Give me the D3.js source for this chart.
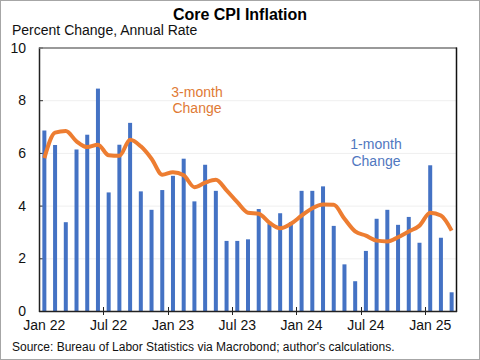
<!DOCTYPE html>
<html><head><meta charset="utf-8">
<script src="https://cdn.jsdelivr.net/npm/d3@7"></script>
<style>
html,body{margin:0;padding:0;background:#fff;}
svg text{font-family:"Liberation Sans",Arial,sans-serif;}
</style></head>
<body><svg id="c" width="480" height="360"></svg>
<script>
const months = ["Jan 22","Feb 22","Mar 22","Apr 22","May 22","Jun 22","Jul 22","Aug 22","Sep 22","Oct 22","Nov 22","Dec 22",
"Jan 23","Feb 23","Mar 23","Apr 23","May 23","Jun 23","Jul 23","Aug 23","Sep 23","Oct 23","Nov 23","Dec 23",
"Jan 24","Feb 24","Mar 24","Apr 24","May 24","Jun 24","Jul 24","Aug 24","Sep 24","Oct 24","Nov 24","Dec 24",
"Jan 25","Feb 25","Mar 25"];
const oneMonth = [6.85,6.30,3.37,6.13,6.69,8.44,4.50,6.31,7.14,4.54,3.84,4.59,
5.13,5.78,4.16,5.55,4.56,2.66,2.66,2.72,3.87,3.30,3.71,3.37,
4.56,4.56,4.73,3.23,1.77,1.13,2.28,3.50,3.84,3.27,3.57,2.59,
5.53,2.78,0.71];
const threeMonth = [5.80,6.77,6.83,6.44,6.22,6.31,5.91,5.89,6.50,6.25,5.78,5.17,
5.27,5.15,4.70,4.87,4.98,4.58,4.13,3.73,3.69,3.35,3.14,3.31,
3.62,3.90,4.04,4.03,3.50,3.02,2.86,2.67,2.64,2.80,3.02,3.24,
3.73,3.62,3.05];
const yTicks = [0,2,4,6,8,10];
const xLabels = ["Jan 22","Jul 22","Jan 23","Jul 23","Jan 24","Jul 24","Jan 25"];

const svg = d3.select("#c");
const L=39, R=457, T=47.5, B=311;
const x = d3.scaleBand().domain(months).range([L,R]);
const y = d3.scaleLinear().domain([0,10]).range([B,T]);

// outer border
svg.append("rect").attr("x",0.5).attr("y",0.5).attr("width",479).attr("height",359)
  .attr("fill","none").attr("stroke","#a6a6a6");

// title & subtitle
svg.append("text").attr("x",240).attr("y",20).attr("text-anchor","middle")
  .attr("font-size",16).attr("font-weight","bold").text("Core CPI Inflation");
svg.append("text").attr("x",12).attr("y",35).attr("font-size",14).attr("fill","#111")
  .text("Percent Change, Annual Rate");

// gridlines
svg.append("g").selectAll("line").data(yTicks.filter(d=>d>0&&d<10)).join("line")
  .attr("x1",L).attr("x2",R).attr("y1",d=>y(d)+0.5).attr("y2",d=>y(d)+0.5)
  .attr("stroke","#efefef");

// y labels
svg.append("g").selectAll("text").data(yTicks).join("text")
  .attr("x",26).attr("y",d=>y(d)+5).attr("text-anchor","end").attr("font-size",14)
  .attr("fill","#111").text(d=>d);
// y ticks (inside)
svg.append("g").selectAll("line").data(yTicks).join("line")
  .attr("x1",L).attr("x2",L+4).attr("y1",d=>y(d)+0.5).attr("y2",d=>y(d)+0.5)
  .attr("stroke","#333");

// bars
const bw = 4;
svg.append("g").selectAll("rect").data(oneMonth).join("rect")
  .attr("x",(d,i)=>x(months[i])+x.bandwidth()/2-bw/2)
  .attr("y",d=>y(d)).attr("width",bw).attr("height",d=>y(0)-y(d))
  .attr("fill","#4472C4");

// line
const line = d3.line().x((d,i)=>x(months[i])+x.bandwidth()/2).y(d=>y(d)).curve(d3.curveMonotoneX);
svg.append("path").datum(threeMonth).attr("d",line).attr("fill","none")
  .attr("stroke","#ED7D31").attr("stroke-width",4).attr("stroke-linejoin","round");

// frame
svg.append("line").attr("x1",L+0.5).attr("x2",L+0.5).attr("y1",T).attr("y2",B+1).attr("stroke","#222").attr("stroke-width",1.5);
svg.append("line").attr("x1",L).attr("x2",R).attr("y1",T+0.5).attr("y2",T+0.5).attr("stroke","#777").attr("stroke-width",1.5);
svg.append("line").attr("x1",R-0.5).attr("x2",R-0.5).attr("y1",T).attr("y2",B+1).attr("stroke","#111").attr("stroke-width",1.5);
svg.append("line").attr("x1",L).attr("x2",R).attr("y1",B+0.5).attr("y2",B+0.5).attr("stroke","#222").attr("stroke-width",1.5);

// x ticks at 6-month boundaries
const boundaries = xLabels.slice(1).map(m=>x(m));
svg.append("g").selectAll("line").data(boundaries).join("line")
  .attr("x1",d=>Math.round(d)+0.5).attr("x2",d=>Math.round(d)+0.5).attr("y1",B-4).attr("y2",B+4)
  .attr("stroke","#222");

// x labels
svg.append("g").selectAll("text").data(xLabels).join("text")
  .attr("x",d=>x(d)+x.bandwidth()/2).attr("y",330).attr("text-anchor","middle")
  .attr("font-size",14).attr("fill","#111").text(d=>d);

// annotations
const a3 = svg.append("text").attr("text-anchor","middle").attr("font-size",14).attr("fill","#E07A35");
a3.append("tspan").attr("x",197).attr("y",97).text("3-month");
a3.append("tspan").attr("x",197).attr("y",113).text("Change");
const a1 = svg.append("text").attr("text-anchor","middle").attr("font-size",14).attr("fill","#5077C0");
a1.append("tspan").attr("x",376).attr("y",149).text("1-month");
a1.append("tspan").attr("x",376).attr("y",166).text("Change");

// source
svg.append("text").attr("x",12).attr("y",351).attr("font-size",12).attr("fill","#111")
  .text("Source: Bureau of Labor Statistics via Macrobond; author's calculations.");
</script></body></html>
